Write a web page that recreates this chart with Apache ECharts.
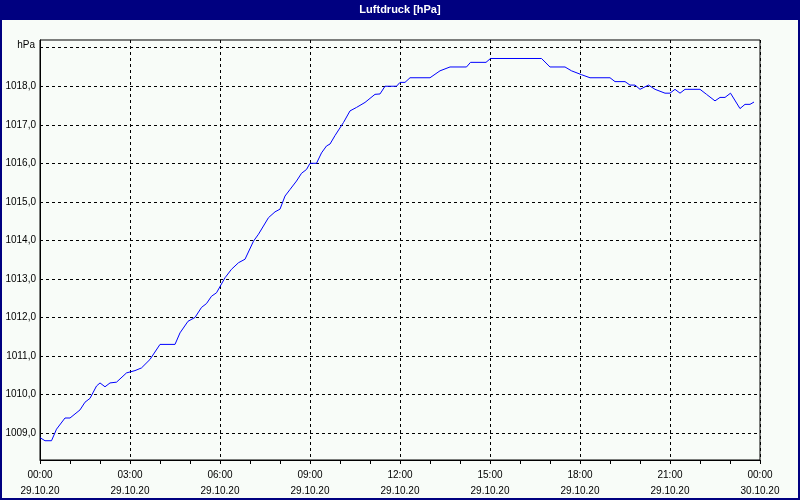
<!DOCTYPE html>
<html>
<head>
<meta charset="utf-8">
<script src="https://cdn.jsdelivr.net/npm/echarts@6/dist/echarts.min.js"></script>
<style>
html,body{margin:0;padding:0;background:#f8fcf8;}
#chart{width:800px;height:500px;}
</style>
</head>
<body>
<div id="chart"></div>
<script>
// minutes since 29.10.20 00:00
var minutes = [0,10,23,33,50,60,80,90,100,113,120,130,140,153,173,190,203,220,240,260,270,280,296,310,323,333,343,353,370,383,397,410,427,437,457,470,480,490,500,513,523,533,540,553,563,573,580,590,607,620,633,650,670,680,690,713,720,730,740,780,800,820,853,861,892,901,1003,1020,1050,1063,1083,1100,1140,1150,1170,1180,1190,1200,1217,1230,1240,1250,1260,1270,1280,1290,1320,1333,1350,1360,1370,1381,1400,1410,1420,1428];
var pressure = [1008.88,1008.8,1008.8,1009.1,1009.39,1009.39,1009.6,1009.8,1009.9,1010.22,1010.3,1010.2,1010.3,1010.32,1010.56,1010.62,1010.69,1010.91,1011.3,1011.3,1011.3,1011.6,1011.9,1012.0,1012.26,1012.36,1012.55,1012.64,1013.03,1013.25,1013.42,1013.51,1013.98,1014.16,1014.59,1014.74,1014.81,1015.15,1015.32,1015.54,1015.74,1015.84,1016.0,1016.0,1016.27,1016.45,1016.5,1016.72,1017.06,1017.36,1017.45,1017.58,1017.79,1017.8,1018.0,1018.0,1018.1,1018.1,1018.22,1018.22,1018.4,1018.5,1018.5,1018.62,1018.62,1018.72,1018.72,1018.5,1018.5,1018.4,1018.3,1018.22,1018.22,1018.12,1018.12,1018.03,1018.03,1017.92,1018.03,1017.92,1017.87,1017.82,1017.82,1017.92,1017.82,1017.92,1017.92,1017.79,1017.62,1017.71,1017.71,1017.82,1017.42,1017.53,1017.53,1017.59];
var yLabelValues = [1009,1010,1011,1012,1013,1014,1015,1016,1017,1018];
var yGridValues = [1009,1010,1011,1012,1013,1014,1015,1016,1017,1018,1019];
var titleText = 'Luftdruck [hPa]';
var unitText = 'hPa';
var startDate = '29.10.20';
var endDate = '30.10.20';

var FONT = 'Liberation Sans';
var chart = echarts.init(document.getElementById('chart'), null, {renderer:'canvas'});
var data = minutes.map(function(m,i){return [m, pressure[i]];});
function pad(n){return (n<10?'0':'')+n;}
chart.setOption({
  backgroundColor:'#f8fcf8',
  animation:false,
  graphic:[
    {type:'rect', shape:{x:0,y:0,width:800,height:20}, style:{fill:'#000080'}, z:10},
    {type:'text', x:400, y:10, style:{text:titleText, fill:'#ffffff', font:'bold 11px '+FONT, textAlign:'center', textVerticalAlign:'middle'}, z:11},
    {type:'rect', shape:{x:1,y:1,width:798,height:498}, style:{fill:'none', stroke:'#000080', lineWidth:2}, z:10}
  ],
  grid:{left:40, right:40, top:40, bottom:40, show:true, borderColor:'#000', borderWidth:1, backgroundColor:'transparent'},
  xAxis:{
    type:'value', min:0, max:1440, interval:180,
    axisLine:{show:true, lineStyle:{color:'#000', width:1}},
    axisTick:{show:true, length:4, lineStyle:{color:'#000'}},
    minorTick:{show:true, splitNumber:3, length:4, lineStyle:{color:'#000'}},
    splitLine:{show:true, lineStyle:{color:'#000', type:[3,3], width:1}},
    axisLabel:{
      color:'#000', fontFamily:FONT, fontSize:10, lineHeight:16, margin:7,
      showMinLabel:true, showMaxLabel:true,
      formatter:function(v){
        var h = Math.floor(v/60)%24;
        var d = v>=1440 ? endDate : startDate;
        return pad(h)+':00\n'+d;
      }
    }
  },
  yAxis:{
    type:'value', min:1008.3, max:1019.2,
    name:unitText, nameLocation:'end', nameGap:-5,
    nameTextStyle:{color:'#000', fontFamily:FONT, fontSize:10, align:'right', verticalAlign:'middle', padding:[0,5,0,0]},
    axisLine:{show:true, lineStyle:{color:'#000', width:1}},
    axisTick:{show:false, customValues:yGridValues},
    splitLine:{show:true, lineStyle:{color:'#000', type:[3,3], width:1}},
    axisLabel:{
      color:'#000', fontFamily:FONT, fontSize:10, margin:4,
      customValues:yLabelValues,
      formatter:function(v){return v.toFixed(1).replace('.',',');}
    }
  },
  series:[{
    type:'line', data:data, showSymbol:false, symbol:'none',
    lineStyle:{color:'#0000ff', width:1}, itemStyle:{color:'#0000ff'}
  }]
});
</script>
</body>
</html>
